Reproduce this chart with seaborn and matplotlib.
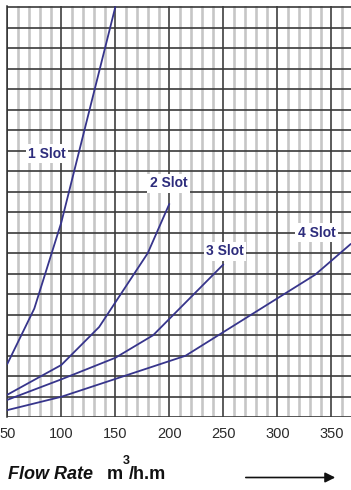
import numpy as np
import pandas as pd
import matplotlib
matplotlib.use("Agg")
import matplotlib.pyplot as plt
import seaborn as sns

# --- values (x: flow rate m3/h.m, y: grid units) ---
slot1_x = [50, 75, 100, 150]
slot1_y = [2.6, 5.3, 9.5, 20.0]
slot2_x = [50, 100, 135, 180, 200]
slot2_y = [1.1, 2.55, 4.4, 8.0, 10.4]
slot3_x = [50, 100, 150, 185, 250]
slot3_y = [0.85, 1.85, 2.9, 4.0, 7.45]
slot4_x = [50, 100, 215, 335, 368]
slot4_y = [0.35, 1.0, 3.0, 6.95, 8.45]

labels = ["1 Slot", "2 Slot", "3 Slot", "4 Slot"]
label_x = [86.7, 199.4, 251.6, 336.5]
label_y = [12.85, 11.4, 8.1, 9.0]
xticks = [50, 100, 150, 200, 250, 300, 350]

frames = []
for name, xs, ys in zip(labels, [slot1_x, slot2_x, slot3_x, slot4_x],
                        [slot1_y, slot2_y, slot3_y, slot4_y]):
    frames.append(pd.DataFrame({"flow": xs, "value": ys, "curve": name}))
df = pd.concat(frames, ignore_index=True)

sns.set_style("white")
plt.rcParams["font.family"] = ["Liberation Sans", "DejaVu Sans"]

navy = "#37358c"
fig = plt.figure(figsize=(3.51, 4.90), dpi=100)
ax = fig.add_axes([7.3 / 351, (490 - 417.3) / 490, (351 - 7.3) / 351, (417.3 - 6) / 490])

ax.set_xlim(50, 368.2)
ax.set_ylim(0, 20.05)

# graph-paper grid
for xv in np.arange(60, 370, 10):
    if xv % 50:
        ax.axvline(xv, color="#c6c6c6", lw=1.9, zorder=0)
for xv in np.arange(50, 370, 50):
    ax.axvline(xv, color="#2f2f2f", lw=1.1, zorder=1)
for yv in range(0, 21):
    ax.axhline(yv, color="#3a3a3a", lw=1.2, zorder=1)

sns.lineplot(data=df, x="flow", y="value", units="curve", estimator=None,
             color=navy, lw=1.3, ax=ax, zorder=3, sort=False)

for txt, lx, ly in zip(labels, label_x, label_y):
    ax.text(lx, ly, txt, ha="center", va="center", fontsize=10, fontweight="bold",
            color="#2d2c7c", zorder=4,
            bbox=dict(boxstyle="square,pad=0.18", fc="white", ec="none"))

for s in ax.spines.values():
    s.set_visible(False)
ax.spines["left"].set_visible(True)
ax.spines["left"].set_color("#2f2f2f")
ax.spines["left"].set_linewidth(1.1)

ax.set_xticks(xticks)
ax.set_xticklabels([str(t) for t in xticks])
ax.set_yticks([])
ax.tick_params(axis="x", direction="out", length=4, width=1.1, color="#2f2f2f",
               labelsize=10.5, labelcolor="#2a2a2a", pad=3)
ax.set_xlabel("")
ax.set_ylabel("")

# axis title and arrow
fig.text(8 / 351, 1 - 474 / 490, "Flow Rate", fontsize=13, fontweight="bold",
         fontstyle="italic", color="#111111", va="center", ha="left")
fig.text(107 / 351, 1 - 474 / 490, "m", fontsize=13, fontweight="bold",
         color="#111111", va="center", ha="left")
fig.text(122.5 / 351, 1 - 461 / 490, "3", fontsize=9, fontweight="bold",
         color="#111111", va="center", ha="left")
fig.text(129 / 351, 1 - 474 / 490, "/h.m", fontsize=13, fontweight="bold",
         color="#111111", va="center", ha="left")
fig.patches.append(matplotlib.patches.FancyArrowPatch(
    (243 / 351, 1 - 477.5 / 490), (338 / 351, 1 - 477.5 / 490),
    transform=fig.transFigure, arrowstyle="-|>,head_length=6,head_width=3",
    color="#111111", lw=1.2, mutation_scale=1))

fig.savefig("out.png", dpi=100)
